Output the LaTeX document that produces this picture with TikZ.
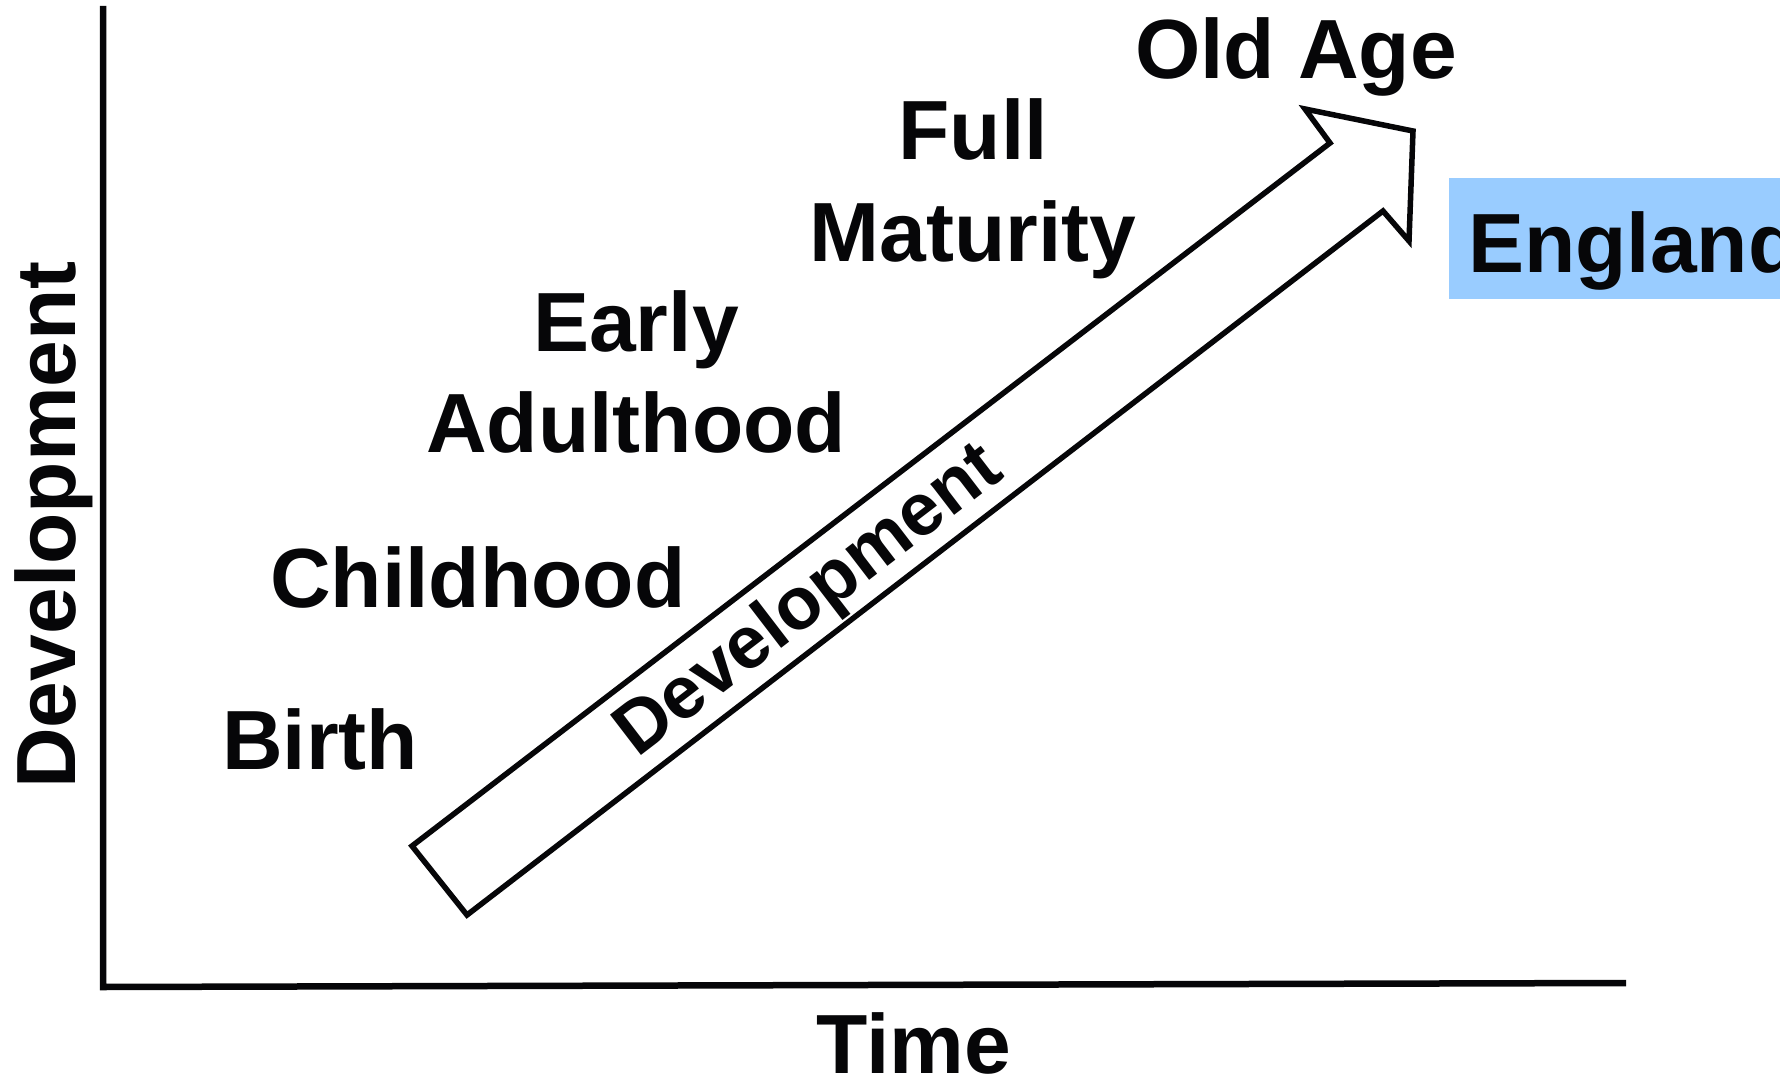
\documentclass[tikz,border=0pt]{standalone}
\usepackage{fontspec}
\setmainfont{Liberation Sans}
\definecolor{englandblue}{HTML}{99CCFF}
\definecolor{ink}{HTML}{060608}
\begin{document}
\begin{tikzpicture}[x=1pt,y=-1pt,
  lbl/.style={font=\bfseries\fontsize{84}{101}\selectfont, text=ink, inner sep=0pt, align=center},
  bandlbl/.style={font=\bfseries\fontsize{74}{88}\selectfont, text=ink, inner sep=0pt},
  axisline/.style={draw=ink, line width=6.5pt, line join=miter},
  bandline/.style={draw=ink, line width=5.5pt, line join=miter}]
\useasboundingbox (0,0) rectangle (1780,1078);
\clip (0,0) rectangle (1780,1078);
% axes
\coordinate (ytop) at (103,6);
\coordinate (origin) at (103,987);
\coordinate (xend) at (1626,983);
\draw[axisline] (ytop) -- (origin) -- (xend);
% development band arrow
\coordinate (a1) at (412,846);
\coordinate (a2) at (467,915);
\coordinate (a3) at (1383,211);
\coordinate (a4) at (1409,241);
\coordinate (a5) at (1413,131);
\coordinate (a6) at (1305,109);
\coordinate (a7) at (1330,143);
\draw[bandline] (a1) -- (a2) -- (a3) -- (a4) -- (a5) -- (a6) -- (a7) -- cycle;
\node[bandlbl, rotate=37.5, anchor=base west] (bandtext) at (637,759) {Development};
% labels
\node[lbl, rotate=90, anchor=base] (ylabel) at (75,525) {Development};
\node[lbl, anchor=base] (xlabel) at (914,1073) {Time};
\node[lbl, anchor=base west] (birth) at (222,769) {Birth};
\node[lbl, anchor=base west] (child) at (270,607) {Childhood};
\node[lbl, anchor=base] (early) at (636,452) {Early\\Adulthood};
\node[lbl, anchor=base] (full) at (973,261) {Full\\Maturity};
\node[lbl, anchor=base] (old) at (1296,79) {Old Age};
\node[lbl, fill=englandblue, anchor=base west, text height=94pt, text depth=27pt, inner ysep=0pt, inner xsep=19pt] (england) at (1449,272) {England};
\end{tikzpicture}
\end{document}
